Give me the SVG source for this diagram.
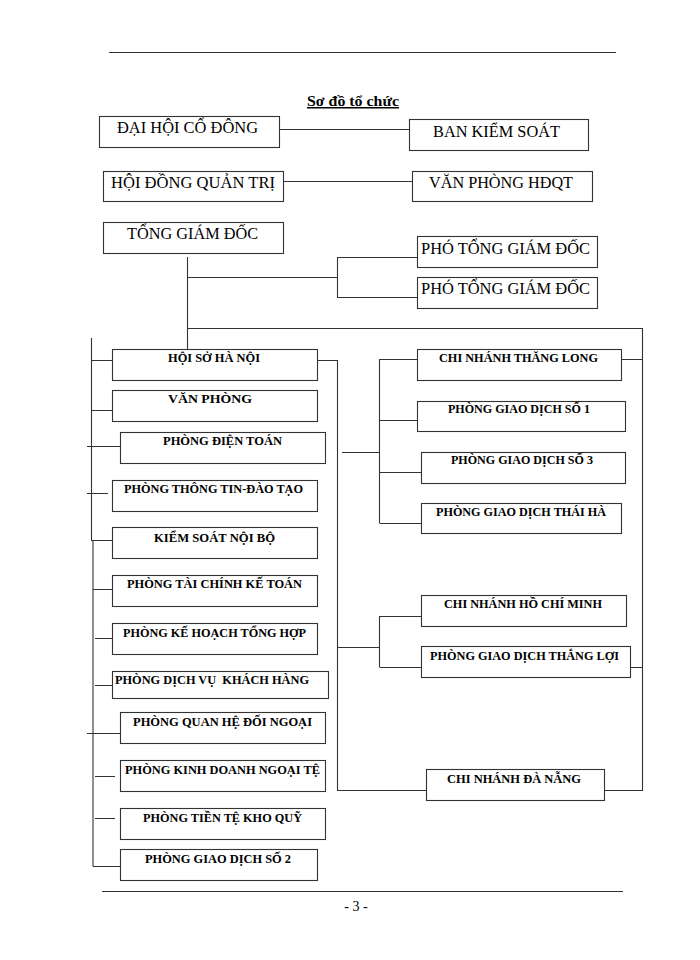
<svg xmlns="http://www.w3.org/2000/svg" width="700" height="960" viewBox="0 0 700 960">
<style>
  .bx{fill:#fff;stroke:#333;stroke-width:1.1}
  .ln{fill:none;stroke:#333;stroke-width:1.1}
  .big{font-family:"Liberation Serif","Times New Roman",serif;font-size:17px;fill:#000}
  .sm{font-family:"Liberation Serif","Times New Roman",serif;font-size:12.5px;font-weight:bold;fill:#000}
  .ttl{font-family:"Liberation Serif","Times New Roman",serif;font-size:15px;font-weight:bold;text-decoration:underline;fill:#000}
  .pg{font-family:"Liberation Serif","Times New Roman",serif;font-size:14px;fill:#000}
</style>
<rect width="700" height="960" fill="#fff"/>
<g id="page">
  <line class="ln" x1="109" y1="52.5" x2="616" y2="52.5"/>
  <line class="ln" x1="102" y1="891.5" x2="623" y2="891.5"/>
  <text class="ttl" x="307" y="106" textLength="92" lengthAdjust="spacingAndGlyphs">Sơ đồ tổ chức</text>
  <text class="pg" x="356" y="911" text-anchor="middle">- 3 -</text>
</g>
<g id="connectors">
  <path class="ln" d="M279 129.5H409"/>
  <path class="ln" d="M283 181.5H412"/>
  <path class="ln" d="M187.5 257V349"/>
  <path class="ln" d="M187.5 277.5H337.5M337.5 257V298M337.5 257.5H417M337.5 297.5H417"/>
  <path class="ln" d="M187.5 328.5H642.5V790.5H604M426 790.5H337.5V360.5H317"/>
  <path class="ln" d="M621 359.5H642.5M630 667.5H642.5"/>
  <path class="ln" d="M342 452.5H379.5M379.5 359V523M379.5 359.5H417M379.5 420.5H417M379.5 472.5H421M379.5 523.5H421"/>
  <path class="ln" d="M337.5 647.5H379.5M379.5 616V667M379.5 616.5H421M379.5 667.5H421"/>
  <path class="ln" d="M91.5 338V540.5H93V866.5"/>
  <path class="ln" d="M91.5 360.5H112M91.5 410.5H112M87 446.5H120M87 493.5H108M91.5 540.5H112M93 589.5H112M95 638.5H115M95 685.5H114M87 733.5H120M95 776.5H115M95 818.5H115M93 866.5H123"/>
</g>
<g id="dai-hoi-co-dong"><rect class="bx" x="99.5" y="116.5" width="180" height="31"/><text class="big" x="117" y="133" textLength="141" lengthAdjust="spacingAndGlyphs">ĐẠI HỘI CỔ ĐÔNG</text></g>
<g id="ban-kiem-soat"><rect class="bx" x="409.5" y="119.5" width="179" height="31"/><text class="big" x="433" y="137" textLength="127" lengthAdjust="spacingAndGlyphs">BAN KIỂM SOÁT</text></g>
<g id="hoi-dong-quan-tri"><rect class="bx" x="103.5" y="171.5" width="180" height="30"/><text class="big" x="111" y="188" textLength="164" lengthAdjust="spacingAndGlyphs">HỘI ĐỒNG QUẢN TRỊ</text></g>
<g id="van-phong-hdqt"><rect class="bx" x="412.5" y="171.5" width="180" height="30"/><text class="big" x="429" y="188" textLength="144" lengthAdjust="spacingAndGlyphs">VĂN PHÒNG HĐQT</text></g>
<g id="tong-giam-doc"><rect class="bx" x="103.5" y="222.5" width="180" height="31"/><text class="big" x="127" y="239" textLength="131" lengthAdjust="spacingAndGlyphs">TỔNG GIÁM ĐỐC</text></g>
<g id="pho-tgd-1"><rect class="bx" x="417.5" y="236.5" width="180" height="31"/><text class="big" x="421" y="254" textLength="169" lengthAdjust="spacingAndGlyphs">PHÓ TỔNG GIÁM ĐỐC</text></g>
<g id="pho-tgd-2"><rect class="bx" x="417.5" y="277.5" width="180" height="31"/><text class="big" x="421" y="294" textLength="169" lengthAdjust="spacingAndGlyphs">PHÓ TỔNG GIÁM ĐỐC</text></g>

<g id="hoi-so-ha-noi"><rect class="bx" x="112.5" y="349.5" width="205" height="31"/><text class="sm" x="168" y="362" textLength="92" lengthAdjust="spacingAndGlyphs">HỘI SỞ HÀ NỘI</text></g>
<g id="van-phong"><rect class="bx" x="112.5" y="390.5" width="205" height="31"/><text class="sm" x="168" y="403" textLength="84" lengthAdjust="spacingAndGlyphs">VĂN PHÒNG</text></g>
<g id="phong-dien-toan"><rect class="bx" x="120.5" y="432.5" width="205" height="31"/><text class="sm" x="163" y="445" textLength="119" lengthAdjust="spacingAndGlyphs">PHÒNG ĐIỆN TOÁN</text></g>
<g id="phong-thong-tin"><rect class="bx" x="112.5" y="480.5" width="205" height="31"/><text class="sm" x="124" y="493" textLength="179" lengthAdjust="spacingAndGlyphs">PHÒNG THÔNG TIN-ĐÀO TẠO</text></g>
<g id="kiem-soat-noi-bo"><rect class="bx" x="112.5" y="527.5" width="205" height="31"/><text class="sm" x="154" y="542" textLength="121" lengthAdjust="spacingAndGlyphs">KIỂM SOÁT NỘI BỘ</text></g>
<g id="phong-tai-chinh"><rect class="bx" x="112.5" y="575.5" width="205" height="31"/><text class="sm" x="127" y="588" textLength="175" lengthAdjust="spacingAndGlyphs">PHÒNG TÀI CHÍNH KẾ TOÁN</text></g>
<g id="phong-ke-hoach"><rect class="bx" x="112.5" y="623.5" width="205" height="31"/><text class="sm" x="123" y="637" textLength="183" lengthAdjust="spacingAndGlyphs">PHÒNG KẾ HOẠCH TỔNG HỢP</text></g>
<g id="phong-dich-vu"><rect class="bx" x="112.5" y="671.5" width="216" height="27"/><text class="sm" x="115" y="684" textLength="194" lengthAdjust="spacingAndGlyphs" xml:space="preserve">PHÒNG DỊCH VỤ  KHÁCH HÀNG</text></g>
<g id="phong-quan-he"><rect class="bx" x="120.5" y="712.5" width="205" height="31"/><text class="sm" x="133" y="726" textLength="179" lengthAdjust="spacingAndGlyphs">PHÒNG QUAN HỆ ĐỐI NGOẠI</text></g>
<g id="phong-kinh-doanh"><rect class="bx" x="120.5" y="760.5" width="205" height="31"/><text class="sm" x="125" y="774" textLength="195" lengthAdjust="spacingAndGlyphs">PHÒNG KINH DOANH NGOẠI TỆ</text></g>
<g id="phong-tien-te"><rect class="bx" x="120.5" y="808.5" width="205" height="31"/><text class="sm" x="143" y="822" textLength="159" lengthAdjust="spacingAndGlyphs">PHÒNG TIỀN TỆ KHO QUỸ</text></g>
<g id="phong-gd-so-2"><rect class="bx" x="120.5" y="849.5" width="197" height="31"/><text class="sm" x="145" y="863" textLength="146" lengthAdjust="spacingAndGlyphs">PHÒNG GIAO DỊCH SỐ 2</text></g>

<g id="cn-thang-long"><rect class="bx" x="417.5" y="349.5" width="204" height="31"/><text class="sm" x="439" y="362" textLength="159" lengthAdjust="spacingAndGlyphs">CHI NHÁNH THĂNG LONG</text></g>
<g id="pgd-so-1"><rect class="bx" x="417.5" y="401.5" width="208" height="30"/><text class="sm" x="448" y="413" textLength="142" lengthAdjust="spacingAndGlyphs">PHÒNG GIAO DỊCH SỐ 1</text></g>
<g id="pgd-so-3"><rect class="bx" x="421.5" y="452.5" width="204" height="31"/><text class="sm" x="451" y="464" textLength="142" lengthAdjust="spacingAndGlyphs">PHÒNG GIAO DỊCH SỐ 3</text></g>
<g id="pgd-thai-ha"><rect class="bx" x="421.5" y="503.5" width="200" height="30"/><text class="sm" x="436" y="516" textLength="170" lengthAdjust="spacingAndGlyphs">PHÒNG GIAO DỊCH THÁI HÀ</text></g>
<g id="cn-ho-chi-minh"><rect class="bx" x="421.5" y="595.5" width="205" height="31"/><text class="sm" x="444" y="608" textLength="158" lengthAdjust="spacingAndGlyphs">CHI NHÁNH HỒ CHÍ MINH</text></g>
<g id="pgd-thang-loi"><rect class="bx" x="421.5" y="646.5" width="209" height="31"/><text class="sm" x="430" y="660" textLength="189" lengthAdjust="spacingAndGlyphs">PHÒNG GIAO DỊCH THẮNG LỢI</text></g>
<g id="cn-da-nang"><rect class="bx" x="426.5" y="769.5" width="178" height="31"/><text class="sm" x="447" y="783" textLength="134" lengthAdjust="spacingAndGlyphs">CHI NHÁNH ĐÀ NẴNG</text></g>
</svg>
